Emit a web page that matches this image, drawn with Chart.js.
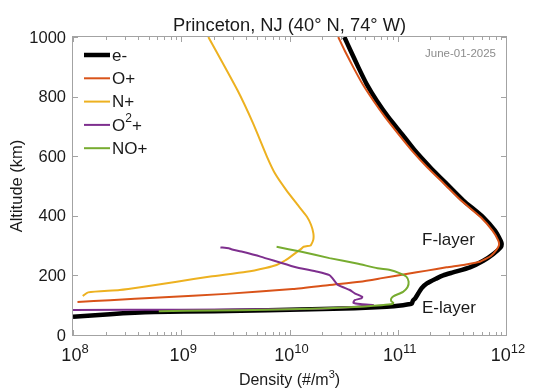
<!DOCTYPE html>
<html>
<head>
<meta charset="utf-8">
<script src="https://cdn.jsdelivr.net/npm/chart.js@4.4.1/dist/chart.umd.min.js"></script>
<style>
  body { margin: 0; background: #fff; }
  canvas { display: block; }
</style>
</head>
<body>
<canvas id="ionChart" width="535" height="392"></canvas>
<script>
// profili di densità (altitudine km -> densità #/m^3)
const altE = [61, 70, 77, 80, 83, 86, 90, 95, 100, 103, 106, 115, 123, 140, 157, 173, 190, 200, 210, 227, 249, 272, 294, 305, 316, 350, 395, 451, 507, 563, 619, 675, 731, 786, 842, 898, 954, 1000];
const nE = [1.0e8, 2.2e8, 5.6e8, 2.0e9, 6.3e9, 1.6e10, 4.0e10, 7.9e10, 1.12e11, 1.26e11, 1.35e11, 1.38e11, 1.45e11, 1.55e11, 1.66e11, 1.86e11, 2.29e11, 2.63e11, 3.24e11, 4.65e11, 6.17e11, 7.64e11, 8.93e11, 9.12e11, 8.93e11, 7.91e11, 6.17e11, 4.04e11, 2.83e11, 1.99e11, 1.44e11, 1.09e11, 8.18e10, 6.4e10, 5.16e10, 4.33e10, 3.67e10, 3.21e10];

const altO = [111, 117, 126, 138, 154, 168, 179, 190, 205, 216, 227, 236, 246, 255, 265, 285, 300, 316, 350, 395, 451, 507, 563, 619, 675, 731, 786, 842, 898, 954, 1000];
const nO = [1.1e8, 2.2e8, 6.3e8, 2.6e9, 1.07e10, 2.34e10, 4.47e10, 6.9e10, 1.2e11, 1.86e11, 2.82e11, 4.17e11, 5.75e11, 6.46e11, 7.24e11, 8.13e11, 8.6e11, 8.51e11, 7.5e11, 5.85e11, 3.85e11, 2.69e11, 1.87e11, 1.35e11, 1.01e11, 7.64e10, 5.96e10, 4.73e10, 3.89e10, 3.24e10, 2.82e10];

const altN = [131, 143, 151, 162, 179, 196, 212, 225, 235, 250, 268, 290, 296, 300, 302, 320, 342, 370, 397, 440, 487, 540, 598, 711, 822, 1000];
const nN = [1.23e8, 1.38e8, 2.7e8, 4.5e8, 9.1e8, 1.86e9, 4.0e9, 6.0e9, 7.6e9, 9.1e9, 1.07e10, 1.29e10, 1.35e10, 1.55e10, 1.58e10, 1.66e10, 1.66e10, 1.58e10, 1.45e10, 1.17e10, 9.3e9, 7.4e9, 6.2e9, 4.6e9, 3.3e9, 1.78e9];

const altO2 = [84, 85, 86, 88, 92, 97, 101, 104, 108, 117, 123, 128, 140, 151, 168, 190, 201, 212, 229, 263, 280, 288, 291, 294];
const nO2 = [1.0e8, 1.0e9, 6.0e9, 2.0e10, 3.2e10, 5.0e10, 5.9e10, 4.5e10, 3.9e10, 4.0e10, 4.6e10, 4.7e10, 4.0e10, 3.6e10, 2.8e10, 2.5e10, 2.34e10, 1.82e10, 1.1e10, 5.4e9, 3.6e9, 2.9e9, 2.75e9, 2.3e9];

const altNO = [80, 82, 85, 88, 92, 96, 100, 104, 108, 114, 122, 130, 145, 160, 179, 196, 207, 218, 224, 240, 258, 280, 296];
const nNO = [6.2e8, 2.0e9, 6.3e9, 1.6e10, 3.2e10, 5.0e10, 7.1e10, 8.9e10, 9.1e10, 8.7e10, 8.7e10, 9.1e10, 1.12e11, 1.23e11, 1.26e11, 1.2e11, 1.05e11, 8.5e10, 6.5e10, 4.2e10, 2.34e10, 1.26e10, 7.6e9];

const seriesLabels = ["e-", "O+", "N+", "O^2+", "NO+"];
const seriesColors = ["#000000", "#D95319", "#EDB120", "#7E2F8E", "#77AC30"];
const seriesWidths = [4.5, 2, 2, 2, 2];

const xTickExp = [8, 9, 10, 11, 12];
const yTicks = [0, 200, 400, 600, 800, 1000];

const titleText = "Princeton, NJ (40° N, 74° W)";
const dateText = "June-01-2025";
const xTitle = "Density (#/m^3)";
const yTitle = "Altitude (km)";

const FONT = "'Liberation Sans', Arial, Helvetica, sans-serif";

function toPoints(alt, dens) {
    return alt.map((h, i) => ({ x: dens[i], y: h }));
}

// testo con esponenti "^n"
function richParts(str) {
    const parts = [];
    const re = /\^(\d+)/g;
    let last = 0, m;
    while ((m = re.exec(str)) !== null) {
        if (m.index > last) parts.push({ t: str.slice(last, m.index), sup: false });
        parts.push({ t: m[1], sup: true });
        last = re.lastIndex;
    }
    if (last < str.length) parts.push({ t: str.slice(last), sup: false });
    return parts;
}

function drawRich(ctx, str, x, y, size, align) {
    const parts = richParts(str);
    const supSize = Math.round(size * 0.7);
    let total = 0;
    parts.forEach(p => {
        ctx.font = (p.sup ? supSize : size) + "px " + FONT;
        p.w = ctx.measureText(p.t).width;
        total += p.w;
    });
    let cx = x;
    if (align === "center") cx = x - total / 2;
    else if (align === "right") cx = x - total;
    ctx.textAlign = "left";
    parts.forEach(p => {
        ctx.font = (p.sup ? supSize : size) + "px " + FONT;
        ctx.fillText(p.t, cx, p.sup ? y - size * 0.42 : y);
        cx += p.w;
    });
}

const decor = {
    id: "decor",
    afterDatasetsDraw(chart) {
        const { ctx, chartArea: a, scales } = chart;
        const xs = scales.x, ys = scales.y;
        ctx.save();

        // riquadro
        ctx.strokeStyle = "#a3a3a3";
        ctx.lineWidth = 1;
        ctx.strokeRect(a.left - 0.5, a.top - 0.5, a.right - a.left + 1, a.bottom - a.top + 1);

        // tacche asse x (maggiori e minori)
        ctx.beginPath();
        const xMax = Math.pow(10, xTickExp[xTickExp.length - 1]);
        for (let e = xTickExp[0]; e <= xTickExp[xTickExp.length - 1]; e++) {
            for (let k = 1; k <= 9; k++) {
                const v = k * Math.pow(10, e);
                if (v > xMax) break;
                const px = Math.round(xs.getPixelForValue(v)) + 0.5;
                const len = k === 1 ? 5 : 3;
                ctx.moveTo(px, a.bottom);
                ctx.lineTo(px, a.bottom - len);
                ctx.moveTo(px, a.top);
                ctx.lineTo(px, a.top + len);
            }
        }
        // tacche asse y
        yTicks.forEach(t => {
            const py = Math.round(ys.getPixelForValue(t)) + 0.5;
            ctx.moveTo(a.left, py);
            ctx.lineTo(a.left + 5, py);
            ctx.moveTo(a.right, py);
            ctx.lineTo(a.right - 5, py);
        });
        ctx.stroke();

        ctx.fillStyle = "#1a1a1a";

        // etichette y
        ctx.font = "16.5px " + FONT;
        ctx.textAlign = "right";
        ctx.textBaseline = "middle";
        yTicks.forEach(t => {
            ctx.fillText(String(t), a.left - 7, ys.getPixelForValue(t) + 1);
        });

        // etichette x
        ctx.textBaseline = "alphabetic";
        xTickExp.forEach(e => {
            drawRich(ctx, "10^" + e, xs.getPixelForValue(Math.pow(10, e)) + 2, a.bottom + 26, 18, "center");
        });

        // titoli
        ctx.font = "18.3px " + FONT;
        ctx.textAlign = "center";
        ctx.fillText(titleText, (a.left + a.right) / 2, 31);

        drawRich(ctx, xTitle, (a.left + a.right) / 2, 385, 16, "center");

        ctx.save();
        ctx.translate(22, (a.top + a.bottom) / 2);
        ctx.rotate(-Math.PI / 2);
        ctx.font = "16.5px " + FONT;
        ctx.textAlign = "center";
        ctx.fillText(yTitle, 0, 0);
        ctx.restore();

        // data
        ctx.fillStyle = "#8c8c8c";
        ctx.font = "11.5px " + FONT;
        ctx.textAlign = "right";
        ctx.fillText(dateText, a.right - 10, 57);

        // etichette strati
        ctx.fillStyle = "#1a1a1a";
        ctx.font = "17px " + FONT;
        ctx.textAlign = "left";
        ctx.fillText("F-layer", 422, 245);
        ctx.fillText("E-layer", 422, 313);

        // legenda
        chart.data.datasets.forEach((ds, i) => {
            const ly = 55 + i * 23.3;
            ctx.strokeStyle = ds.borderColor;
            ctx.lineWidth = ds.borderWidth;
            ctx.beginPath();
            ctx.moveTo(84, ly);
            ctx.lineTo(110, ly);
            ctx.stroke();
            ctx.fillStyle = "#1a1a1a";
            ctx.textBaseline = "middle";
            drawRich(ctx, ds.label, 112, ly + 1, 17, "left");
        });

        ctx.restore();
    }
};

const profiles = [
    toPoints(altE, nE),
    toPoints(altO, nO),
    toPoints(altN, nN),
    toPoints(altO2, nO2),
    toPoints(altNO, nNO)
];

new Chart(document.getElementById("ionChart"), {
    type: "scatter",
    data: {
        datasets: profiles.map((pts, i) => ({
            label: seriesLabels[i],
            data: pts,
            showLine: true,
            borderColor: seriesColors[i],
            backgroundColor: seriesColors[i],
            borderWidth: seriesWidths[i],
            pointRadius: 0,
            tension: 0.2,
            borderJoinStyle: "round",
            order: 5 - i
        }))
    },
    options: {
        responsive: false,
        animation: false,
        devicePixelRatio: 1,
        layout: { padding: { left: 73, right: 29, top: 37, bottom: 57 } },
        scales: {
            x: { type: "logarithmic", min: 1e8, max: 1e12, display: false },
            y: { type: "linear", min: 0, max: 1000, display: false }
        },
        plugins: {
            legend: { display: false },
            title: { display: false },
            tooltip: { enabled: false }
        }
    },
    plugins: [decor]
});
</script>
</body>
</html>
